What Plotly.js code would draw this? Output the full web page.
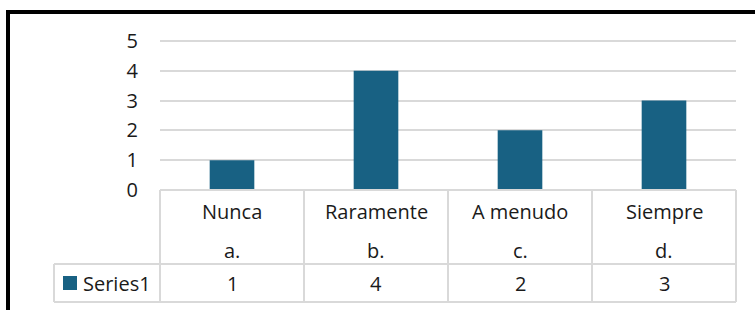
<!DOCTYPE html>
<html>
<head>
<meta charset="utf-8">
<script src="https://cdn.plot.ly/plotly-3.0.1.min.js"></script>
<style>
  html, body { margin: 0; padding: 0; background: #ffffff; }
  #chart { width: 755px; height: 310px; }
</style>
</head>
<body>
<div id="chart"></div>
<script>
const categories = ['Nunca', 'Raramente', 'A menudo', 'Siempre'];
const letters = ['a.', 'b.', 'c.', 'd.'];
const values = [1, 4, 2, 3];
const seriesName = 'Series1';
const yTicks = [0, 1, 2, 3, 4, 5];

const FONT = 'Open Sans, Roboto, Arial, sans-serif';
const TXT = '#1a1a1a';
const BAR = '#186183';
const GRID = '#d9d9d9';

// pixel layout helpers (plot area: x 160..736, y 40..190)
const L = 160, R = 736, T = 40, B = 190;
const px2x = p => (p - L) / (R - L);
const py2y = p => (B - p) / (B - T);

const shapes = [];
const line = (x0, y0, x1, y1, color, width) => shapes.push({
  type: 'line', xref: 'paper', yref: 'paper',
  x0: px2x(x0), y0: py2y(y0), x1: px2x(x1), y1: py2y(y1),
  line: { color: color, width: width }, layer: 'above'
});

// explicit top gridline (at the highest tick)
const yMax = yTicks[yTicks.length - 1];
shapes.push({ type: 'line', xref: 'paper', yref: 'y', x0: 0, x1: 1, y0: yMax, y1: yMax,
  line: { color: GRID, width: 2 }, layer: 'below' });

// data table grid
const n = categories.length;
line(L, B, R, B, GRID, 2);
line(54, 264, R, 264, GRID, 2);
line(54, 302, R, 302, GRID, 2);
line(54, 264, 54, 302, GRID, 2);
for (let i = 0; i <= n; i++) {
  const xp = L + (R - L) * i / n;
  line(xp, B, xp, 302, GRID, 2);
}
// legend key
shapes.push({
  type: 'rect', xref: 'paper', yref: 'paper',
  x0: px2x(63), x1: px2x(77), y0: py2y(276), y1: py2y(290),
  fillcolor: BAR, line: { width: 0 }
});
// outer black frame (left + top)
line(8, 12, 8, 320, '#000000', 4);
line(6, 12, 760, 12, '#000000', 4);

const annotations = [];
categories.forEach((c, i) => {
  annotations.push({ xref: 'x', yref: 'paper', x: c, y: py2y(211), text: c,
    showarrow: false, xanchor: 'center', yanchor: 'middle', font: { family: FONT, size: 20, color: TXT } });
  annotations.push({ xref: 'x', yref: 'paper', x: c, y: py2y(250), text: letters[i],
    showarrow: false, xanchor: 'center', yanchor: 'middle', font: { family: FONT, size: 20, color: TXT } });
  annotations.push({ xref: 'x', yref: 'paper', x: c, y: py2y(283), text: String(values[i]),
    showarrow: false, xanchor: 'center', yanchor: 'middle', font: { family: FONT, size: 20, color: TXT } });
});
annotations.push({ xref: 'paper', yref: 'paper', x: px2x(81), y: py2y(283), text: seriesName,
  showarrow: false, xanchor: 'left', yanchor: 'middle', font: { family: FONT, size: 20, color: TXT } });

const data = [{
  type: 'bar', x: categories, y: values, name: seriesName,
  marker: { color: BAR, line: { width: 0 } }, hoverinfo: 'none'
}];

const layout = {
  width: 755, height: 310,
  margin: { l: L, r: 755 - R, t: T, b: 310 - B, pad: 0 },
  paper_bgcolor: '#ffffff', plot_bgcolor: '#ffffff',
  showlegend: false,
  bargap: 0.69,
  font: { family: FONT, size: 20, color: TXT },
  xaxis: { type: 'category', showticklabels: false, showgrid: false, zeroline: false, showline: false, ticks: '', fixedrange: true },
  yaxis: {
    range: [0, 5.03], tickvals: yTicks, ticktext: yTicks.map(String),
    showgrid: true, gridcolor: GRID, gridwidth: 2, zeroline: false, showline: false,
    ticks: '', ticklabelstandoff: 21, tickfont: { family: FONT, size: 20, color: TXT }, fixedrange: true
  },
  shapes: shapes,
  annotations: annotations
};

Plotly.newPlot('chart', data, layout, { displayModeBar: false, staticPlot: true });
</script>
</body>
</html>
